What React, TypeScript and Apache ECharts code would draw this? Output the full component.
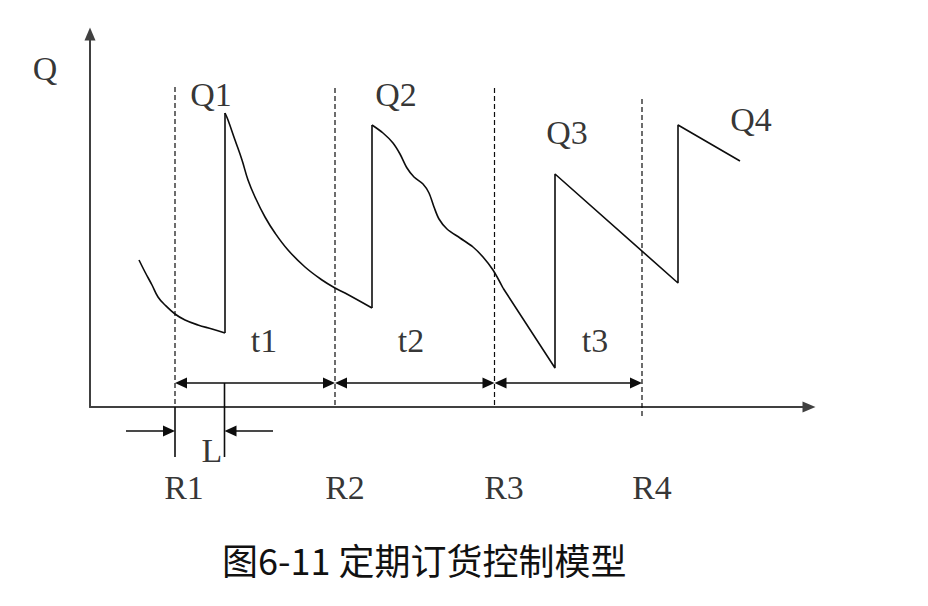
import React, { useEffect, useRef } from "react";
import * as echarts from "echarts";

// Chart units: x = horizontal offset from the origin, y = height above the time axis
const X_MAX = 719;
const Y_MAX = 373;

// Inventory level curve pieces
const preCurve = [[49, 147], [55, 135], [62, 122], [68, 110], [75, 102], [85, 93], [95, 87], [108, 82], [122, 78], [135, 74]];
const q1Jump = [[135, 74], [135, 294]];
const q1Decay = [[135, 294], [138, 287], [145, 267], [152, 247], [158, 227], [165, 210], [175, 190], [185, 174], [198, 157], [215, 140], [232, 127], [245, 119], [255, 114], [282, 99]];
const q2Jump = [[282, 99], [282, 282]];
const q2Wavy = [[282, 282], [293, 274], [303, 264], [310, 253], [317, 239], [324, 230], [333, 223], [339, 214], [344, 200], [349, 188], [357, 178], [370, 169], [383, 160], [393, 150], [403, 137], [413, 119]];
const tailLine = [[413, 119], [465, 39], [465, 233], [588, 124], [588, 282], [650, 246]];

// Review points R1..R4
const reviewX = [85, 245, 404.5, 552];
const reviewTop = [320, 319, 319, 308];
const reviewBottom = [0, 0, 0, -11];

// Solid ticks below the axis (R1 and end of lead time L)
const solidTicks = [
  [[85, 0], [85, -50]],
  [[134.5, 24], [134.5, -50]],
];

// Double arrows for the intervals t1..t3
const intervalArrows = [[85, 245], [245, 404.5], [404.5, 552]];
const intervalY = 24;

// Lead-time arrows: [from, to] (head at "to")
const leadArrows = [[36, 85], [183, 134.5]];
const leadY = -24;

// Text labels
const labelNames = ["Q", "Q1", "Q2", "Q3", "Q4", "t1", "t2", "t3", "R1", "R2", "R3", "R4", "L"];
const labelPos = [[-45, 339], [121, 313], [306, 313], [477, 275], [661, 288], [174, 67], [321, 67], [505, 67], [94, -80], [255, -80], [414, -80], [562, -80], [122, -43]];

const caption = "图6-11 定期订货控制模型";

const INK = "#0d0d0d";
const HEAD = 12;

function curveSeries(data: number[][], smooth: boolean | number) {
  return {
    type: "line",
    data,
    smooth,
    symbol: "none",
    clip: false,
    silent: true,
    lineStyle: { color: INK, width: 1.6 },
    z: 5,
  };
}

function arrowSeries(from: number, to: number, y: number, both: boolean) {
  const dir = to > from ? 1 : -1;
  const half = HEAD / 2;
  const start = both ? from + dir * half : from;
  const end = to - dir * half;
  return {
    type: "line",
    clip: false,
    silent: true,
    showSymbol: true,
    showAllSymbol: true,
    symbolSize: [11, HEAD],
    lineStyle: { color: INK, width: 1.6 },
    itemStyle: { color: INK },
    data: [
      both
        ? { value: [start, y], symbol: "triangle", symbolRotate: dir > 0 ? 90 : -90 }
        : { value: [start, y], symbol: "none" },
      { value: [end, y], symbol: "triangle", symbolRotate: dir > 0 ? -90 : 90 },
    ],
    z: 6,
  };
}

export default function App() {
  const ref = useRef<HTMLDivElement>(null);
  useEffect(() => {
    if (!ref.current) return;
    const chart = echarts.init(ref.current, null, { renderer: "svg" });
    const series: any[] = [];
    series.push(curveSeries(preCurve, 0.4));
    series.push(curveSeries(q1Jump, false));
    series.push(curveSeries(q1Decay, 0.4));
    series.push(curveSeries(q2Jump, false));
    series.push(curveSeries(q2Wavy, 0.3));
    series.push(curveSeries(tailLine, false));
    reviewX.forEach((x, i) => {
      series.push({
        type: "line",
        data: [[x, reviewTop[i]], [x, reviewBottom[i]]],
        symbol: "none",
        clip: false,
        silent: true,
        lineStyle: { color: INK, width: 1.2, type: [5, 3] },
        z: 3,
      });
    });
    solidTicks.forEach((seg) => {
      series.push({
        type: "line",
        data: seg,
        symbol: "none",
        clip: false,
        silent: true,
        lineStyle: { color: INK, width: 1.6 },
        z: 4,
      });
    });
    intervalArrows.forEach(([a, b]) => series.push(arrowSeries(a, b, intervalY, true)));
    leadArrows.forEach(([a, b]) => series.push(arrowSeries(a, b, leadY, false)));
    series.push({
      type: "scatter",
      clip: false,
      silent: true,
      symbolSize: 1,
      itemStyle: { color: "transparent" },
      data: labelNames.map((n, i) => ({ name: n, value: labelPos[i] })),
      label: {
        show: true,
        position: "inside",
        formatter: "{b}",
        color: "#000000",
        textBorderWidth: 0,
        fontSize: 34,
        fontFamily: "Liberation Serif",
        align: "center",
        verticalAlign: "middle",
      },
      z: 10,
    });

    chart.setOption({
      animation: false,
      backgroundColor: "#ffffff",
      title: {
        text: caption,
        left: 222,
        top: 541,
        padding: 0,
        textStyle: {
          fontFamily: "Noto Sans CJK SC",
          fontSize: 36,
          fontWeight: "normal",
          color: "#111111",
        },
      },
      grid: { left: 90, right: 119, top: 34, bottom: 199, containLabel: false },
      xAxis: {
        type: "value",
        min: 0,
        max: X_MAX,
        axisLine: {
          show: true,
          onZero: false,
          symbol: ["none", "triangle"],
          symbolSize: [11, 13],
          lineStyle: { color: "#404040", width: 2 },
        },
        axisTick: { show: false },
        axisLabel: { show: false },
        splitLine: { show: false },
      },
      yAxis: {
        type: "value",
        min: 0,
        max: Y_MAX,
        axisLine: {
          show: true,
          onZero: false,
          symbol: ["none", "triangle"],
          symbolSize: [11, 13],
          lineStyle: { color: "#404040", width: 2 },
        },
        axisTick: { show: false },
        axisLabel: { show: false },
        splitLine: { show: false },
      },
      series,
    });
    return () => chart.dispose();
  }, []);
  return (
    <div
      ref={ref}
      style={{ position: "absolute", left: 0, top: 0, width: 928, height: 606, background: "#fff" }}
    />
  );
}
